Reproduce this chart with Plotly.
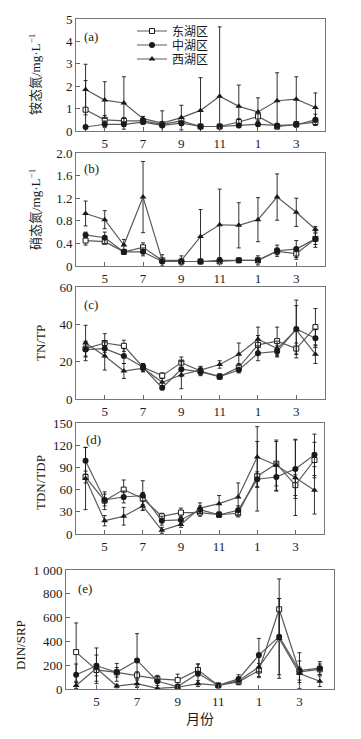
import plotly.graph_objects as go

W, H = 361, 739
months = ["4", "5", "6", "7", "8", "9", "10", "11", "12", "1", "2", "3", "4"]
tick_idx = [1, 3, 5, 7, 9, 11]
tick_lab = ["5", "7", "9", "11", "1", "3"]
series_names = ["东湖区", "中湖区", "西湖区"]

# (a) 铵态氮
a_east = [0.95, 0.5, 0.45, 0.45, 0.3, 0.45, 0.2, 0.2, 0.4, 0.65, 0.2, 0.3, 0.4]
a_east_err = [1.3, 0.2, 0.15, 0.1, 0.1, 0.15, 0.05, 0.05, 0.15, 0.2, 0.1, 0.1, 0.15]
a_mid = [0.18, 0.3, 0.3, 0.4, 0.25, 0.35, 0.2, 0.2, 0.25, 0.3, 0.25, 0.28, 0.5]
a_mid_err = [0.05, 0.15, 0.1, 0.1, 0.05, 0.1, 0.05, 0.05, 0.05, 0.1, 0.05, 0.1, 0.25]
a_west = [1.85, 1.38, 1.25, 0.55, 0.35, 0.6, 0.92, 1.55, 1.1, 0.85, 1.35, 1.42, 1.05]
a_west_err = [1.13, 0.82, 1.17, 0.1, 0.55, 0.55, 1.46, 3.1, 0.95, 0.63, 1.25, 1.0, 0.65]

# (b) 硝态氮
b_east = [0.45, 0.43, 0.25, 0.33, 0.1, 0.08, 0.08, 0.08, 0.1, 0.1, 0.26, 0.22, 0.48]
b_east_err = [0.08, 0.04, 0.04, 0.08, 0.03, 0.02, 0.02, 0.02, 0.02, 0.02, 0.06, 0.1, 0.1]
b_mid = [0.55, 0.5, 0.25, 0.25, 0.08, 0.08, 0.08, 0.1, 0.1, 0.1, 0.27, 0.3, 0.48]
b_mid_err = [0.05, 0.1, 0.04, 0.07, 0.03, 0.03, 0.03, 0.05, 0.03, 0.08, 0.1, 0.15, 0.15]
b_west = [0.93, 0.82, 0.37, 1.22, 0.1, 0.1, 0.52, 0.73, 0.72, 0.82, 1.22, 0.95, 0.65]
b_west_err = [0.22, 0.16, 0.1, 0.63, 0.1, 0.08, 0.48, 0.63, 0.4, 0.39, 0.41, 0.25, 0.05]

# (c) TN/TP
c_east = [27, 30, 28.5, 17, 12.5, 19.5, 15, 12, 17, 29, 31, 27, 38.5]
c_east_err = [4, 5, 3, 2, 1.5, 3, 2, 1.5, 2, 5, 7.5, 3, 10]
c_mid = [26.5, 27, 23, 17, 6, 16, 14.5, 12, 15.5, 24.5, 25.5, 37.5, 32.5]
c_mid_err = [4, 4, 4, 2, 1, 4, 2, 1, 1.5, 4, 3, 15.5, 5]
c_west = [30, 23, 15, 16.5, 9, 13, 15.5, 18.5, 24, 32, 27, 37, 24]
c_west_err = [9.5, 7.5, 4, 2, 2, 7.5, 2, 2, 6, 6.5, 4, 13, 5]

# (d) TDN/TDP
d_east = [77, 45, 60, 48, 24, 29, 29, 26, 28, 78, 95, 66, 100]
d_east_err = [8, 12, 13, 8, 4, 6, 5, 3, 5, 47, 30, 14, 24]
d_mid = [99, 46, 50, 52, 18, 19, 33, 26, 32, 74, 77, 88, 107]
d_mid_err = [18, 8, 8, 20, 6, 5, 5, 3, 6, 10, 19, 40, 28]
d_west = [75, 18, 24, 38, 5, 13, 35, 41, 50, 104, 93, 76, 59]
d_west_err = [42, 7, 12, 6, 4, 4, 7, 11, 19, 41, 34, 51, 32]

# (e) DIN/SRP
e_east = [310, 160, 140, 115, 85, 75, 160, 30, 60, 155, 670, 145, 165]
e_east_err = [245, 50, 40, 30, 30, 50, 50, 10, 25, 60, 255, 90, 45]
e_mid = [120, 195, 140, 240, 65, 20, 130, 30, 85, 285, 440, 155, 175]
e_mid_err = [90, 150, 75, 225, 35, 15, 80, 10, 35, 140, 320, 150, 55]
e_west = [30, 175, 25, 45, 5, 15, 45, 30, 70, 185, 425, 130, 65]
e_west_err = [25, 110, 15, 30, 5, 10, 25, 10, 20, 80, 335, 55, 45]

FONT = "Liberation Serif, Noto Sans CJK SC, serif"
CJK = "Noto Sans CJK SC, Liberation Serif"
LINE = "#5a5a5a"
INK = "#1a1a1a"

panels = [
    dict(data=[(a_east, a_east_err), (a_mid, a_mid_err), (a_west, a_west_err)],
         box=(76, 325, 19, 131), xr=[-0.5, 12.5], yr=[0, 5],
         yt=[0, 1, 2, 3, 4, 5], ytt=["0", "1", "2", "3", "4", "5"],
         lab="(a)", labpos=(82, 36), title="铵态氮/mg·L<sup>−1</sup>", tpos=(35, 75)),
    dict(data=[(b_east, b_east_err), (b_mid, b_mid_err), (b_west, b_west_err)],
         box=(76, 325, 153, 266), xr=[-0.5, 12.5], yr=[0, 2],
         yt=[0, 0.4, 0.8, 1.2, 1.6, 2.0], ytt=["0", "0.4", "0.8", "1.2", "1.6", "2.0"],
         lab="(b)", labpos=(82, 168), title="硝态氮/mg·L<sup>−1</sup>", tpos=(35, 210)),
    dict(data=[(c_east, c_east_err), (c_mid, c_mid_err), (c_west, c_west_err)],
         box=(76, 325, 287, 399), xr=[-0.5, 12.5], yr=[0, 60],
         yt=[0, 20, 40, 60], ytt=["0", "20", "40", "60"],
         lab="(c)", labpos=(82, 305), title="TN/TP", tpos=(40, 343)),
    dict(data=[(d_east, d_east_err), (d_mid, d_mid_err), (d_west, d_west_err)],
         box=(76, 324, 423, 534), xr=[-0.5, 12.5], yr=[0, 150],
         yt=[0, 30, 60, 90, 120, 150], ytt=["0", "30", "60", "90", "120", "150"],
         lab="(d)", labpos=(84, 439), title="TDN/TDP", tpos=(40, 483)),
    dict(data=[(e_east, e_east_err), (e_mid, e_mid_err), (e_west, e_west_err)],
         box=(66, 334, 570, 689), xr=[-0.5, 12.7], yr=[0, 1000],
         yt=[0, 200, 400, 600, 800, 1000], ytt=["0", "200", "400", "600", "800", "1 000"],
         lab="(e)", labpos=(76, 588), title="DIN/SRP", tpos=(20, 645)),
]

markers = [
    dict(symbol="square", size=5, color="white", line=dict(color=INK, width=1)),
    dict(symbol="circle", size=6, color=INK, line=dict(color=INK, width=0)),
    dict(symbol="triangle-up", size=6, color=INK, line=dict(color=INK, width=0)),
]
legend_ids = ["legend", "legend2", "legend3"]
legend_rows = [31, 45, 59]

fig = go.Figure()
annotations = []
layout = {}
x_idx = list(range(len(months)))

for i, p in enumerate(panels):
    n = "" if i == 0 else str(i + 1)
    xa, ya = "x" + n, "y" + n
    for k, (vals, errs) in enumerate(p["data"]):
        fig.add_trace(go.Scatter(
            x=x_idx, y=vals, xaxis=xa, yaxis=ya,
            mode="lines+markers", name=series_names[k],
            showlegend=(i == 0), legend=legend_ids[k],
            line=dict(color=LINE, width=1.2),
            marker=markers[k],
            error_y=dict(type="data", array=errs, visible=True,
                         color=INK, thickness=0.9, width=2),
        ))
    x0, x1, y0, y1 = p["box"]
    layout["xaxis" + n] = dict(
        domain=[x0 / W, x1 / W], range=p["xr"], anchor=ya,
        tickvals=tick_idx, ticktext=tick_lab, ticks="inside", ticklen=4,
        tickcolor="#666", showline=True, linecolor="#777", linewidth=1,
        mirror=True, showgrid=False, zeroline=False,
        tickfont=dict(family=FONT, size=13, color=INK),
    )
    layout["yaxis" + n] = dict(
        domain=[1 - y1 / H, 1 - y0 / H], range=p["yr"], anchor=xa,
        tickvals=p["yt"], ticktext=p["ytt"], ticks="inside", ticklen=4,
        tickcolor="#666", showline=True, linecolor="#777", linewidth=1,
        mirror=True, showgrid=False, zeroline=False,
        tickfont=dict(family=FONT, size=13, color=INK),
    )
    annotations.append(dict(
        text=p["lab"], x=p["labpos"][0] / W, y=1 - p["labpos"][1] / H,
        xref="paper", yref="paper", xanchor="left", yanchor="middle",
        showarrow=False, font=dict(family=FONT, size=13, color=INK)))
    annotations.append(dict(
        text=p["title"], x=p["tpos"][0] / W, y=1 - p["tpos"][1] / H,
        xref="paper", yref="paper", xanchor="center", yanchor="middle",
        textangle=-90, showarrow=False, font=dict(family=FONT, size=13, color=INK)))

annotations.append(dict(
    text="月份", x=200 / W, y=1 - 718 / H, xref="paper", yref="paper",
    xanchor="center", yanchor="middle", showarrow=False,
    font=dict(family=CJK, size=14, color=INK)))

for lid, row in zip(legend_ids, legend_rows):
    layout[lid] = dict(
        x=132 / W, y=1 - row / H, xanchor="left", yanchor="middle",
        bgcolor="rgba(0,0,0,0)", borderwidth=0,
        font=dict(family=CJK, size=12, color=INK),
        itemwidth=30, tracegroupgap=0,
    )

fig.update_layout(
    width=W, height=H,
    margin=dict(l=0, r=0, t=0, b=0, autoexpand=False),
    paper_bgcolor="white", plot_bgcolor="white",
    showlegend=True,
    annotations=annotations,
    **layout,
)

fig.write_html(
    "out.html",
    config={"displayModeBar": False},
    post_script="document.body.style.margin='0';document.body.style.padding='0';"
                "document.body.style.overflow='hidden';",
)
